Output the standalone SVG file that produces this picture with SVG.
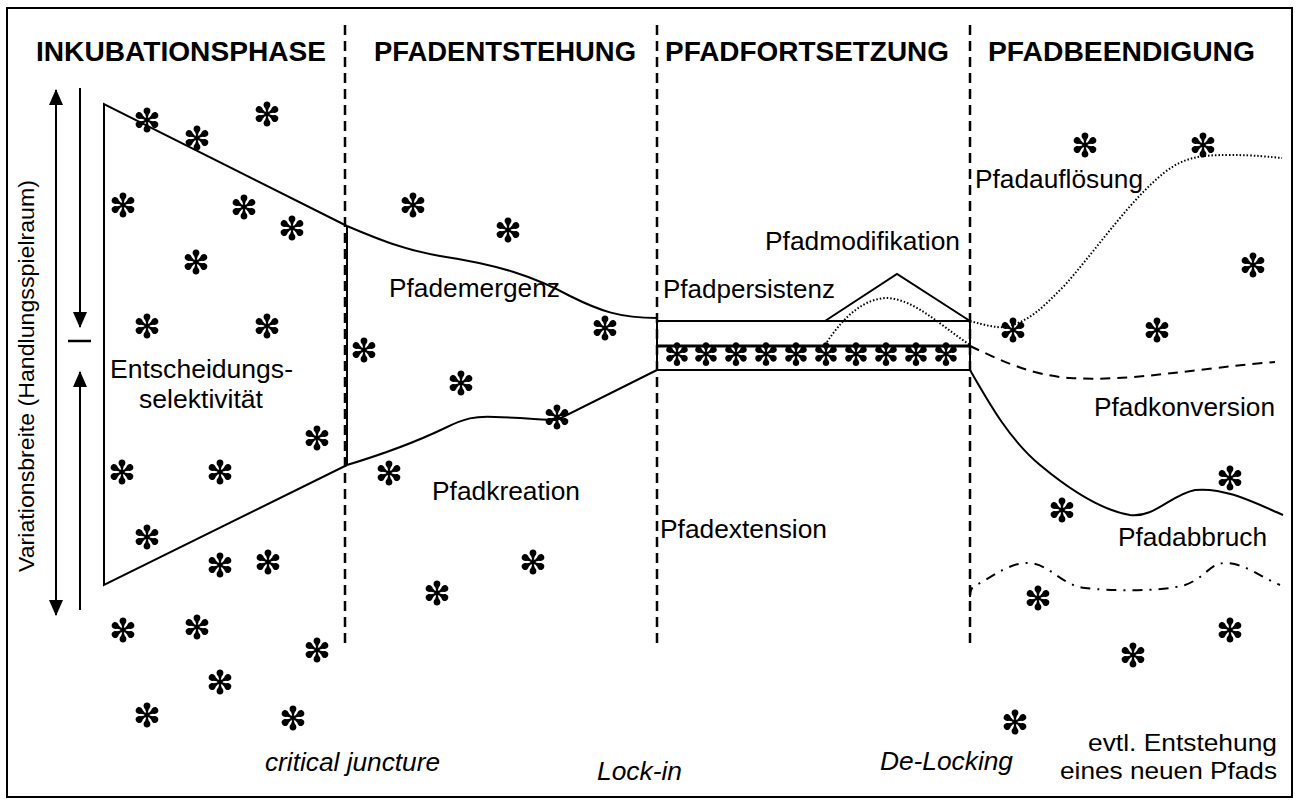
<svg xmlns="http://www.w3.org/2000/svg" xmlns:xlink="http://www.w3.org/1999/xlink" width="1296" height="800" viewBox="0 0 1296 800">
<style>
text{font-family:"Liberation Sans",Arial,Helvetica,sans-serif;font-size:26px;fill:#000}
.h{font-weight:bold;font-size:27px}
.i{font-style:italic}
.s{font-size:24px}
.ln{fill:none;stroke:#000;stroke-width:2}
.vd{fill:none;stroke:#000;stroke-width:2.5;stroke-dasharray:10 6}
.dot{fill:none;stroke:#000;stroke-width:2;stroke-dasharray:1.5 2}
.dsh{fill:none;stroke:#000;stroke-width:2;stroke-dasharray:10 7}
.dd{fill:none;stroke:#000;stroke-width:2;stroke-dasharray:10 7 2 7}
</style>
<defs>
<marker id="ah" viewBox="0 0 16 14" refX="15" refY="7" markerWidth="16" markerHeight="14" markerUnits="userSpaceOnUse" orient="auto-start-reverse"><path d="M0,0 L16,7 L0,14 z" fill="#000"/></marker>
<path id="petal" d="M0,0 L-1.9,-6 C-4.3,-8 -3.9,-12.5 0,-12.5 C3.9,-12.5 4.3,-8 1.9,-6 Z"/>
<g id="ast" fill="#000">
<use href="#petal"/><use href="#petal" transform="rotate(60)"/><use href="#petal" transform="rotate(120)"/><use href="#petal" transform="rotate(180)"/><use href="#petal" transform="rotate(240)"/><use href="#petal" transform="rotate(300)"/><circle r="2.8"/>
</g>
</defs>
<rect width="1296" height="800" fill="#fff"/>
<rect x="7" y="8" width="1285" height="789" fill="none" stroke="#000" stroke-width="2"/>

<g id="phase-dividers">
<line class="vd" x1="345" y1="25" x2="345" y2="645"/>
<line class="vd" x1="657" y1="25" x2="657" y2="645"/>
<line class="vd" x1="970" y1="25" x2="970" y2="645"/>
</g>

<g id="headings">
<text class="h" x="36" y="61" textLength="290" lengthAdjust="spacingAndGlyphs">INKUBATIONSPHASE</text>
<text class="h" x="374" y="61" textLength="262" lengthAdjust="spacingAndGlyphs">PFADENTSTEHUNG</text>
<text class="h" x="665" y="61" textLength="284" lengthAdjust="spacingAndGlyphs">PFADFORTSETZUNG</text>
<text class="h" x="988" y="61" textLength="267" lengthAdjust="spacingAndGlyphs">PFADBEENDIGUNG</text>
</g>

<g id="axis">
<line class="ln" x1="56" y1="90" x2="56" y2="615" marker-start="url(#ah)" marker-end="url(#ah)"/>
<line class="ln" x1="80" y1="88" x2="80" y2="327" marker-end="url(#ah)"/>
<line class="ln" x1="80" y1="372" x2="80" y2="610" marker-start="url(#ah)"/>
<line x1="68" y1="341" x2="91" y2="341" stroke="#000" stroke-width="2.5"/>
<text transform="translate(34,572) rotate(-90)" style="font-size:22px" textLength="392" lengthAdjust="spacingAndGlyphs">Variationsbreite (Handlungsspielraum)</text>
</g>

<g id="connectors">
<polyline class="ln" points="347,226 104,104 104,585 347,465"/>
<line class="ln" x1="347" y1="226" x2="347" y2="465"/>
<path class="ln" d="M347,226 C380,240 405,250 440,256 C500,265 535,277 570,296 C600,311 620,318 657,318"/>
<path class="ln" d="M347,465 C390,452 420,440 445,428 C465,418 475,416 495,417 C525,418 545,420 557,420 L657,370"/>
<rect class="ln" x="657" y="321" width="313" height="49"/>
<line x1="657" y1="346" x2="970" y2="346" stroke="#000" stroke-width="3"/>
<polyline class="ln" points="825,321 897,274 970,321"/>
<path class="dot" d="M827,342 C845,315 865,298 888,298 C915,300 940,325 970,345"/>
<path class="dsh" d="M970,346 C1000,360 1030,375 1070,378 C1130,382 1200,368 1275,362"/>
<path class="dot" d="M970,321 C985,325 995,328 1005,327 C1030,322 1045,305 1065,285 C1100,245 1130,200 1165,172 C1185,157 1200,155 1230,155 C1255,155 1270,157 1282,158"/>
<path class="ln" d="M970,370 C990,405 1010,440 1040,465 C1070,490 1100,510 1130,515 C1155,518 1170,495 1195,490 C1225,487 1255,503 1283,515"/>
<path class="dd" d="M970,597 C970,590 972,586 978,584 C995,575 1010,563 1027,563 C1050,563 1060,585 1085,588 C1110,591 1160,592 1185,585 C1205,578 1210,563 1225,563 C1245,563 1262,578 1280,585"/>
</g>

<g id="asterisks">
<use href="#ast" x="147" y="120"/><use href="#ast" x="197" y="138"/><use href="#ast" x="267" y="114"/>
<use href="#ast" x="123" y="205"/><use href="#ast" x="244" y="207"/><use href="#ast" x="292" y="228"/>
<use href="#ast" x="196" y="262"/><use href="#ast" x="147" y="326"/><use href="#ast" x="267" y="326"/>
<use href="#ast" x="317" y="438"/><use href="#ast" x="122" y="472"/><use href="#ast" x="220" y="472"/>
<use href="#ast" x="147" y="537"/><use href="#ast" x="220" y="565"/><use href="#ast" x="268" y="562"/>
<use href="#ast" x="123" y="630"/><use href="#ast" x="197" y="627"/><use href="#ast" x="317" y="650"/>
<use href="#ast" x="220" y="682"/><use href="#ast" x="147" y="715"/><use href="#ast" x="293" y="718"/>
<use href="#ast" x="413" y="205"/><use href="#ast" x="508" y="230"/><use href="#ast" x="605" y="328"/>
<use href="#ast" x="364" y="350"/><use href="#ast" x="461" y="383"/><use href="#ast" x="557" y="417"/>
<use href="#ast" x="389" y="473"/><use href="#ast" x="437" y="593"/><use href="#ast" x="533" y="562"/>
<use href="#ast" x="1085" y="145"/><use href="#ast" x="1203" y="145"/><use href="#ast" x="1253" y="265"/>
<use href="#ast" x="1013" y="330"/><use href="#ast" x="1157" y="330"/><use href="#ast" x="1230" y="478"/>
<use href="#ast" x="1062" y="510"/><use href="#ast" x="1038" y="598"/><use href="#ast" x="1230" y="630"/>
<use href="#ast" x="1133" y="655"/><use href="#ast" x="1015" y="722"/>
</g>
<g id="asterisk-row">
<use href="#ast" transform="translate(677,354) scale(0.95)"/><use href="#ast" transform="translate(706,354) scale(0.95)"/>
<use href="#ast" transform="translate(736,354) scale(0.95)"/><use href="#ast" transform="translate(766,354) scale(0.95)"/>
<use href="#ast" transform="translate(796,354) scale(0.95)"/><use href="#ast" transform="translate(826,354) scale(0.95)"/>
<use href="#ast" transform="translate(856,354) scale(0.95)"/><use href="#ast" transform="translate(886,354) scale(0.95)"/>
<use href="#ast" transform="translate(916,354) scale(0.95)"/><use href="#ast" transform="translate(946,354) scale(0.95)"/>
</g>

<g id="label-entscheidung">
<text x="110" y="378" textLength="183" lengthAdjust="spacingAndGlyphs">Entscheidungs-</text>
<text x="139" y="408" textLength="124" lengthAdjust="spacingAndGlyphs">selektivität</text>
</g>
<g id="label-pfademergenz"><text x="389" y="297" textLength="171" lengthAdjust="spacingAndGlyphs">Pfademergenz</text></g>
<g id="label-pfadkreation"><text x="432" y="500" textLength="148" lengthAdjust="spacingAndGlyphs">Pfadkreation</text></g>
<g id="label-pfadpersistenz"><text x="663" y="298" textLength="172" lengthAdjust="spacingAndGlyphs">Pfadpersistenz</text></g>
<g id="label-pfadmodifikation"><text x="765" y="250" textLength="195" lengthAdjust="spacingAndGlyphs">Pfadmodifikation</text></g>
<g id="label-pfadextension"><text x="660" y="538" textLength="167" lengthAdjust="spacingAndGlyphs">Pfadextension</text></g>
<g id="label-pfadaufloesung"><text x="975" y="188" textLength="168" lengthAdjust="spacingAndGlyphs">Pfadauflösung</text></g>
<g id="label-pfadkonversion"><text x="1094" y="416" textLength="181" lengthAdjust="spacingAndGlyphs">Pfadkonversion</text></g>
<g id="label-pfadabbruch"><text x="1118" y="546" textLength="149" lengthAdjust="spacingAndGlyphs">Pfadabbruch</text></g>
<g id="label-neuer-pfad">
<text class="s" x="1088" y="751" textLength="189" lengthAdjust="spacingAndGlyphs">evtl. Entstehung</text>
<text class="s" x="1060" y="779" textLength="217" lengthAdjust="spacingAndGlyphs">eines neuen Pfads</text>
</g>
<g id="label-critical-juncture"><text class="i" x="265" y="771" textLength="175" lengthAdjust="spacingAndGlyphs">critical juncture</text></g>
<g id="label-lock-in"><text class="i" x="597" y="780" textLength="85" lengthAdjust="spacingAndGlyphs">Lock-in</text></g>
<g id="label-de-locking"><text class="i" x="880" y="770" textLength="133" lengthAdjust="spacingAndGlyphs">De-Locking</text></g>
</svg>
